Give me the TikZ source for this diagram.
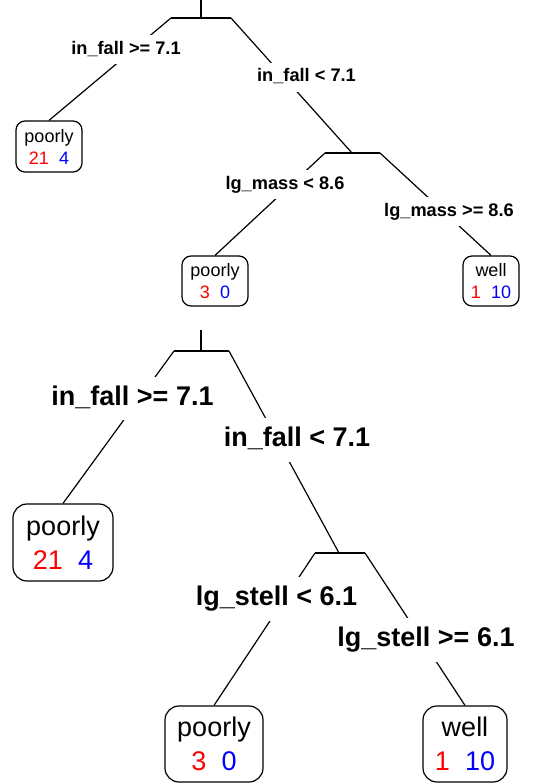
\documentclass[tikz,border=0pt]{standalone}
\usepackage{fontspec}
\setmainfont{Liberation Sans}
\begin{document}
\begin{tikzpicture}[x=1pt,y=-1pt,
  edge/.style={line width=1.2pt},
  lblA/.style={font=\bfseries\fontsize{18.2}{22}\selectfont, fill=white, anchor=base,
    inner xsep=1pt, inner ysep=5.4pt, text height=13.5pt, text depth=4.5pt},
  lblB/.style={font=\bfseries\fontsize{27}{33}\selectfont, fill=white, anchor=base,
    inner xsep=1pt, inner ysep=8.1pt, text height=20.3pt, text depth=6.8pt},
  leafA/.style={draw, line width=1.2pt, rounded corners=9pt, inner sep=0pt, align=center,
    font=\fontsize{18}{22}\selectfont},
  leafB/.style={draw, line width=1.2pt, rounded corners=14pt, inner sep=0pt, align=center,
    font=\fontsize{27}{34}\selectfont}]
\useasboundingbox (0,0) rectangle (546,784);

% ---------------- top tree ----------------
\coordinate (t0) at (201,0);
\coordinate (t1) at (201,18);
\coordinate (t1l) at (171,18);
\coordinate (t1r) at (231,18);
\coordinate (t2) at (352,153);
\coordinate (t2l) at (325,153);
\coordinate (t2r) at (380,153);

\node[leafA, minimum width=66pt, minimum height=51pt] (ta) at (49,146.5)
  {poorly\\{\color{red}21}\hspace{0.556em}{\color{blue}4}};
\node[leafA, minimum width=66pt, minimum height=50pt] (tb) at (215,281)
  {poorly\\{\color{red}3}\hspace{0.556em}{\color{blue}0}};
\node[leafA, minimum width=56pt, minimum height=50pt] (tc) at (491,281)
  {well\\{\color{red}1}\hspace{0.556em}{\color{blue}10}};

\draw[edge] (t0) -- (t1);
\draw[edge] (t1l) -- (t1r);
\draw[edge] (t1l) -- (ta.north);
\draw[edge] (t1r) -- (t2);
\draw[edge] (t2l) -- (t2r);
\draw[edge] (t2l) -- (tb.north);
\draw[edge] (t2r) -- (tc.north);

\node[lblA] (tl1) at (126,54.3) {in\_fall >= 7.1};
\node[lblA] (tl2) at (306.5,81.7) {in\_fall < 7.1};
\node[lblA] (tl3) at (285,189) {lg\_mass < 8.6};
\node[lblA] (tl4) at (449,216) {lg\_mass >= 8.6};

% ---------------- bottom tree ----------------
\coordinate (b0) at (201,330);
\coordinate (b1) at (201,351);
\coordinate (b1l) at (174,351);
\coordinate (b1r) at (229,351);
\coordinate (b2) at (339,553);
\coordinate (b2l) at (315,553);
\coordinate (b2r) at (365,553);

\node[leafB, minimum width=100pt, minimum height=77pt] (ba) at (63,542.5)
  {poorly\\{\color{red}21}\hspace{0.556em}{\color{blue}4}};
\node[leafB, minimum width=98pt, minimum height=76pt] (bb) at (214,744)
  {poorly\\{\color{red}3}\hspace{0.556em}{\color{blue}0}};
\node[leafB, minimum width=84pt, minimum height=76pt] (bc) at (465,744)
  {well\\{\color{red}1}\hspace{0.556em}{\color{blue}10}};

\draw[edge] (b0) -- (b1);
\draw[edge] (b1l) -- (b1r);
\draw[edge] (b1l) -- (ba.north);
\draw[edge] (b1r) -- (b2);
\draw[edge] (b2l) -- (b2r);
\draw[edge] (b2l) -- (bb.north);
\draw[edge] (b2r) -- (bc.north);

\node[lblB] (bl1) at (132.5,405) {in\_fall >= 7.1};
\node[lblB] (bl2) at (297,446.7) {in\_fall < 7.1};
\node[lblB] (bl3) at (276.5,605.7) {lg\_stell < 6.1};
\node[lblB] (bl4) at (426,646.7) {lg\_stell >= 6.1};
\end{tikzpicture}
\end{document}
